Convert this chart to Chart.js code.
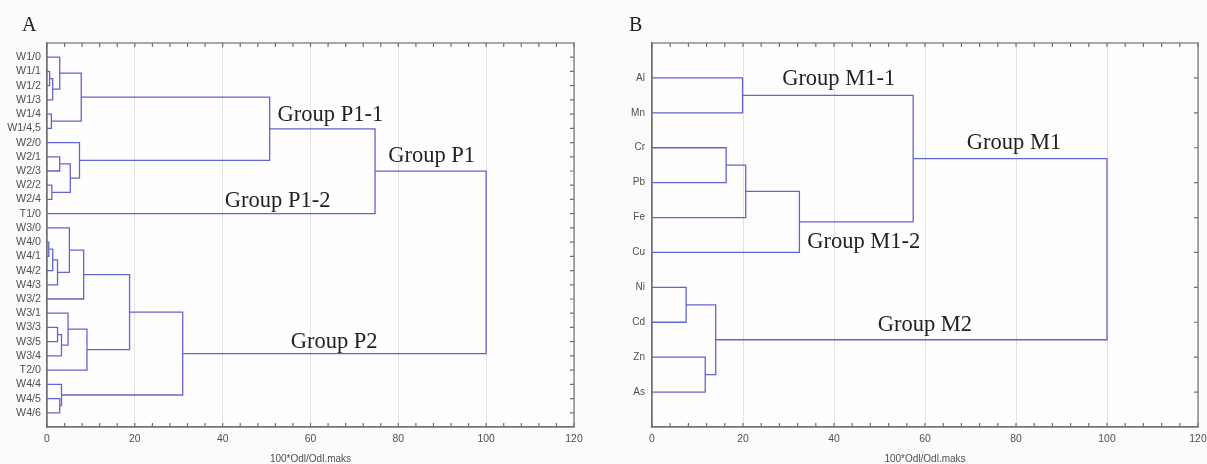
<!DOCTYPE html>
<html>
<head>
<meta charset="utf-8">
<script src="https://cdn.jsdelivr.net/npm/chart.js@4.4.1/dist/chart.umd.min.js"></script>
<style>
  html, body { margin: 0; padding: 0; background: #fbfbfb; }
  #wrap { position: relative; width: 1207px; height: 464px; overflow: hidden; }
  canvas { position: absolute; top: 0; }
</style>
</head>
<body>
<div id="wrap">
  <canvas id="dendA" width="600" height="464" style="left:0"></canvas>
  <canvas id="dendB" width="607" height="464" style="left:600px"></canvas>
</div>
<script>
// leaves, top to bottom
const leavesA = ['W1/0', 'W1/1', 'W1/2', 'W1/3', 'W1/4', 'W1/4,5', 'W2/0', 'W2/1', 'W2/3', 'W2/2', 'W2/4', 'T1/0',
  'W3/0', 'W4/0', 'W4/1', 'W4/2', 'W4/3', 'W3/2', 'W3/1', 'W3/3', 'W3/5', 'W3/4', 'T2/0', 'W4/4', 'W4/5', 'W4/6'];
// merges: [child, child, height]; child < n is a leaf, n + k is merge k
const mergesA = [
  [1, 2, 0.6], [26, 3, 1.3], [0, 27, 2.9], [4, 5, 1.0], [28, 29, 7.8],
  [7, 8, 2.9], [9, 10, 1.1], [31, 32, 5.3], [6, 33, 7.4], [30, 34, 50.7],
  [35, 11, 74.7],
  [13, 14, 0.4], [37, 15, 1.3], [38, 16, 2.4], [12, 39, 5.1], [40, 17, 8.35],
  [19, 20, 2.4], [42, 21, 3.3], [18, 43, 4.8], [44, 22, 9.1], [41, 45, 18.8],
  [24, 25, 2.9], [23, 47, 3.3], [46, 48, 30.9],
  [36, 49, 100]
];

const leavesB = ['Al', 'Mn', 'Cr', 'Pb', 'Fe', 'Cu', 'Ni', 'Cd', 'Zn', 'As'];
const mergesB = [
  [0, 1, 19.9], [2, 3, 16.3], [11, 4, 20.6], [12, 5, 32.4], [10, 13, 57.4],
  [6, 7, 7.5], [8, 9, 11.7], [15, 16, 14.0],
  [14, 17, 100]
];

const xTicks = [0, 20, 40, 60, 80, 100, 120];
const xTitle = '100*Odl/Odl.maks';

const lineCol = 'rgb(100,100,208)';
const frameCol = '#707070';

function linkSets(n, merges) {
  const pos = [], hgt = [];
  for (let i = 0; i < n; i++) { pos[i] = i + 1; hgt[i] = 0; }
  return merges.map(([a, b, h], k) => {
    pos[n + k] = (pos[a] + pos[b]) / 2;
    hgt[n + k] = h;
    return {
      data: [{x: hgt[a], y: pos[a]}, {x: h, y: pos[a]}, {x: h, y: pos[b]}, {x: hgt[b], y: pos[b]}],
      borderColor: lineCol, backgroundColor: lineCol,
      borderWidth: 1.3, showLine: true, pointRadius: 0, tension: 0
    };
  });
}

const decor = {
  id: 'decor',
  beforeDraw(chart) {
    const {ctx, chartArea: a} = chart;
    ctx.save();
    ctx.fillStyle = '#fefefe';
    ctx.fillRect(a.left, a.top, a.right - a.left, a.bottom - a.top);
    ctx.restore();
  },
  afterDraw(chart, args, o) {
    const {ctx, chartArea: a, scales: {x, y}} = chart;
    ctx.save();
    ctx.strokeStyle = frameCol;
    ctx.lineWidth = 1.2;
    ctx.strokeRect(a.left, a.top, a.right - a.left, a.bottom - a.top);
    ctx.beginPath();
    for (let v = 0; v <= 120; v += 4) {
      const px = x.getPixelForValue(v);
      ctx.moveTo(px, a.top); ctx.lineTo(px, a.top + 4);
      ctx.moveTo(px, a.bottom); ctx.lineTo(px, a.bottom - 4);
    }
    y.ticks.forEach(t => {
      const py = y.getPixelForValue(t.value);
      ctx.moveTo(a.right, py); ctx.lineTo(a.right - 4, py);
    });
    ctx.stroke();

    ctx.fillStyle = '#222';
    ctx.textBaseline = 'alphabetic';
    ctx.textAlign = 'left';
    ctx.font = '22.5px "Liberation Serif"';
    o.labels.forEach(l => ctx.fillText(l.text, x.getPixelForValue(l.x), y.getPixelForValue(l.y)));
    ctx.font = '20px "Liberation Serif"';
    ctx.fillText(o.letter, o.letterX, 31);
    ctx.restore();
  }
};

function makeChart(id, leaves, merges, cfg) {
  new Chart(document.getElementById(id), {
    type: 'scatter',
    data: { datasets: linkSets(leaves.length, merges) },
    options: {
      responsive: false,
      animation: false,
      layout: { padding: { top: 43, right: cfg.padRight, left: 0, bottom: 0 } },
      plugins: {
        legend: { display: false },
        tooltip: { enabled: false },
        decor: { labels: cfg.labels, letter: cfg.letter, letterX: cfg.letterX }
      },
      scales: {
        x: {
          type: 'linear', min: 0, max: 120,
          afterBuildTicks: s => { s.ticks = xTicks.map(v => ({value: v})); },
          ticks: { padding: 6, color: '#505050', font: { family: '"Liberation Sans"', size: 10.4 } },
          grid: { color: '#e3e3e3', lineWidth: 1, drawTicks: false },
          border: { color: frameCol, width: 1.2 },
          title: { display: true, text: xTitle, color: '#505050', padding: { top: 0, bottom: -1 },
                   font: { family: '"Liberation Sans"', size: 10 } },
          afterFit: s => { s.height = cfg.xHeight; s.paddingLeft = 0; s.paddingRight = 0; }
        },
        y: {
          type: 'linear', reverse: true, min: 0, max: leaves.length + 1,
          afterBuildTicks: s => { s.ticks = leaves.map((_, i) => ({value: i + 1})); },
          ticks: { autoSkip: false, padding: cfg.yPad, color: '#505050',
                   font: { family: '"Liberation Sans"', size: cfg.ySize },
                   callback: v => leaves[v - 1] },
          grid: { display: false, drawTicks: false },
          border: { color: frameCol, width: 1.2 },
          afterFit: s => { s.width = cfg.yWidth; s.paddingTop = 0; s.paddingBottom = 0; }
        }
      }
    },
    plugins: [decor]
  });
}

makeChart('dendA', leavesA, mergesA, {
  padRight: 26, xHeight: 37, yWidth: 47, yPad: 6, ySize: 10.7, letter: 'A', letterX: 22,
  labels: [
    {text: 'Group P1-1', x: 52.5, y: 5.48},
    {text: 'Group P1', x: 77.7, y: 8.37},
    {text: 'Group P1-2', x: 40.5, y: 11.53},
    {text: 'Group P2', x: 55.5, y: 21.42}
  ]
});

makeChart('dendB', leavesB, mergesB, {
  padRight: 9, xHeight: 37, yWidth: 52, yPad: 7, ySize: 10, letter: 'B', letterX: 29,
  labels: [
    {text: 'Group M1-1', x: 28.6, y: 1.19},
    {text: 'Group M1', x: 69.2, y: 3.05},
    {text: 'Group M1-2', x: 34.1, y: 5.86},
    {text: 'Group M2', x: 49.6, y: 8.24}
  ]
});
</script>
</body>
</html>
